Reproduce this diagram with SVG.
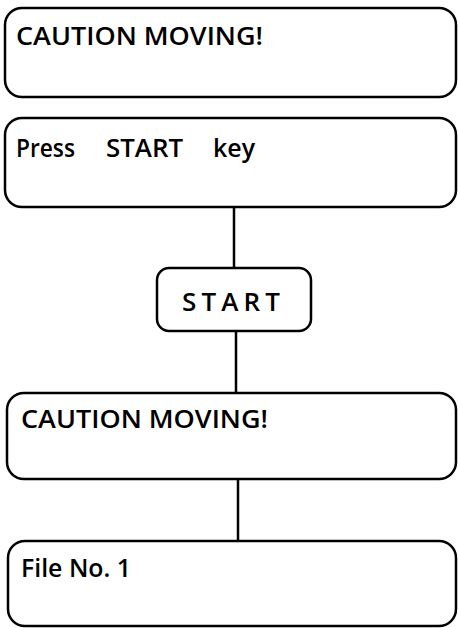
<svg xmlns="http://www.w3.org/2000/svg" width="458" height="628" viewBox="0 0 458 628">
<style>
.box{fill:#fff;stroke:#000;stroke-width:2.5}
.conn{stroke:#000;stroke-width:2.5;fill:none}
.t{font-family:"Open Sans","Liberation Sans",Arial,sans-serif;font-weight:600;font-size:26px;fill:#000}
</style>
<rect width="458" height="628" fill="#fff"/>
<g id="connectors">
<line class="conn" x1="234" y1="207" x2="234" y2="268"/>
<line class="conn" x1="236" y1="331" x2="236" y2="393"/>
<line class="conn" x1="238" y1="479" x2="238" y2="541"/>
</g>
<g id="n1">
<rect class="box" x="5" y="8" width="451" height="89" rx="17"/>
<text class="t" x="16" y="45" textLength="247" lengthAdjust="spacingAndGlyphs">CAUTION MOVING!</text>
</g>
<g id="n2">
<rect class="box" x="5" y="118" width="451" height="89" rx="17"/>
<text class="t" y="157"><tspan x="16" textLength="59" lengthAdjust="spacingAndGlyphs">Press</tspan><tspan x="106" textLength="77" lengthAdjust="spacingAndGlyphs">START</tspan><tspan x="213" textLength="42" lengthAdjust="spacingAndGlyphs">key</tspan></text>
</g>
<g id="n3">
<rect class="box" x="157" y="268" width="154" height="63" rx="12"/>
<text class="t" x="182" y="311" textLength="103" lengthAdjust="spacing" letter-spacing="5">START</text>
</g>
<g id="n4">
<rect class="box" x="7" y="393" width="449" height="86" rx="17"/>
<text class="t" x="21" y="428" textLength="247" lengthAdjust="spacingAndGlyphs">CAUTION MOVING!</text>
</g>
<g id="n5">
<rect class="box" x="8" y="541" width="448" height="85" rx="17"/>
<text class="t" x="21" y="577" textLength="110" lengthAdjust="spacingAndGlyphs">File No. 1</text>
</g>
</svg>
